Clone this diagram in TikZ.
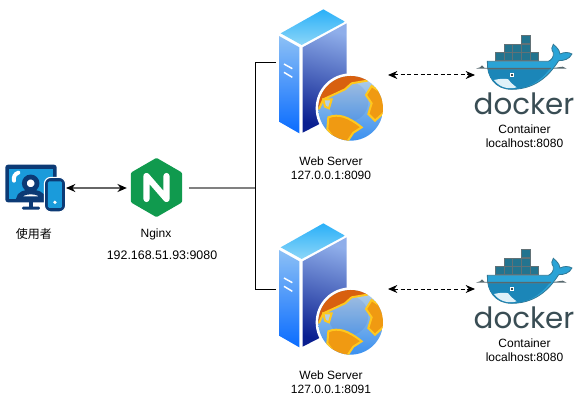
\documentclass[tikz,border=0pt]{standalone}
\usepackage{fontspec}
\setmainfont{Liberation Sans}
\newfontfamily\cjkfont{Noto Sans CJK TC}
\newfontfamily\logofont{Poppins}
\usetikzlibrary{arrows.meta, positioning, shapes.geometric, calc}
\definecolor{navyblue}{HTML}{0C3A75}
\definecolor{screenblue}{HTML}{1A9BDB}
\definecolor{nginxgreen}{HTML}{109A4E}
\definecolor{dockerslate}{HTML}{394D54}
\definecolor{dockerteal}{HTML}{23748F}
\definecolor{whaleblue}{HTML}{2AA3D6}
\definecolor{whaledeep}{HTML}{1B86B8}
\definecolor{landorange}{HTML}{F09A12}
\definecolor{landred}{HTML}{D8600F}
\definecolor{landyellow}{HTML}{FFC81E}
\definecolor{towerlight}{HTML}{8CC0F5}
\definecolor{towerblue}{HTML}{0A6CFF}
\definecolor{sidelight}{HTML}{8FAEEA}
\definecolor{sidedark}{HTML}{0A1F90}
\definecolor{roofa}{HTML}{2AB0F8}
\definecolor{roofb}{HTML}{8CD6F8}
\definecolor{seapale}{HTML}{B4CFE6}
\definecolor{seablue}{HTML}{3A90F0}
\tikzset{
    x=0.75pt, y=-0.75pt,
    caption/.style={font=\fontsize{9}{10.5}\selectfont, align=center, inner sep=0pt},
    iconbox/.style={inner sep=0pt, outer sep=0pt, minimum width=#1},
    link/.style={line width=0.75pt, black},
    graylink/.style={line width=1.4pt, black!50},
    duplex/.style={{Stealth[length=7pt,width=6pt]}-{Stealth[length=7pt,width=6pt]}, line width=0.75pt},
    usericon/.pic={
        \begin{scope}[scale=0.3333]
            \fill[navyblue, rounded corners=2pt] (16,20) rectangle (170,133);
            \fill[screenblue] (28,32) rectangle (158,122);
            \fill[navyblue] (86,133) rectangle (98,150);
            \fill[navyblue, rounded corners=1pt] (66,146) rectangle (120,155);
            \draw[white, line width=3pt, line cap=round] (42,68) .. controls (40,55) and (45,48) .. (55,44);
            \filldraw[fill=white, draw=navyblue, line width=3.6pt] (56,122) .. controls (58,95) and (126,95) .. (130,122) -- cycle;
            \filldraw[fill=white, draw=navyblue, line width=3.6pt] (92,76) circle (19);
            \fill[navyblue] (50,118) rectangle (135,125);
            \filldraw[fill=navyblue, draw=white, line width=0.8pt, rounded corners=5pt] (133,58) rectangle (197,162);
            \fill[screenblue, rounded corners=1pt] (144,70) rectangle (186,150);
            \fill[white] (165,133) circle (5.5);
        \end{scope}
    },
    nginxletter/.pic={
        \draw[white, line width=4.6pt, line join=round, line cap=round] (-10,11.5) -- (-10,-11.5) -- (10,11.5) -- (10,-11.5);
    },
    webserver/.pic={
        \begin{scope}[scale=0.3333]
            \shade[top color=towerlight, bottom color=towerblue] (57,108) -- (118,142) -- (118,400) -- (57,365) -- cycle;
            \shade[top color=sidelight, bottom color=sidedark, shading angle=-15] (128,142) -- (260,70) -- (260,330) -- (128,398) -- cycle;
            \shade[top color=roofa, bottom color=roofb] (62,100) -- (190,28) -- (255,65) -- (125,135) -- cycle;
            \draw[white, line width=1.1pt] (72,192) -- (97,206) (72,217) -- (97,232);
            \fill[white] (272,325) circle (105);
            \begin{scope}
                \clip (272,325) circle (97);
                \shade[top color=seapale, bottom color=seablue] (175,228) rectangle (369,422);
                \fill[sidedark, opacity=.08] (265,305) circle (60);
                \filldraw[fill=landred, draw=landyellow, line width=1.5pt] (165,330) -- (175,250) -- (240,215) -- (320,225) -- (322,242) -- (275,250) -- (255,268) -- (225,282) -- (190,298) -- (178,325) -- cycle;
                \filldraw[fill=seapale, draw=landyellow, line width=1.5pt] (190,298) -- (215,298) -- (207,325) -- (195,320) -- cycle;
                \filldraw[fill=landorange, draw=landyellow, line width=1.5pt] (205,352) .. controls (235,340) and (265,350) .. (305,382) -- (280,398) -- (262,425) -- (225,420) -- (202,388) -- cycle;
                \filldraw[fill=landorange, draw=landyellow, line width=1.5pt] (335,258) -- (375,285) -- (375,335) -- (345,362) -- (325,342) -- (335,310) -- (318,285) -- cycle;
            \end{scope}
        \end{scope}
    },
    dockerwhale/.pic={
        \begin{scope}[scale=0.3333]
            % cargo
            \foreach \bx/\by in {154/16, 102/42, 128/42, 154/42, 76/67, 102/67, 128/67, 154/67, 180/67}
                \filldraw[fill=dockerteal, draw=dockerslate!80, line width=0.5pt] (\bx,\by) rectangle ++(26.5,25);
            % water line
            \fill[dockerslate!85] (18,116) -- (30,112) -- (36,106) -- (44,114) -- (250,114) -- (278,110) -- (290,116) -- cycle;
            % whale
            \filldraw[fill=whaleblue, draw=dockerslate!50!whaleblue, line width=0.6pt] (52,94) -- (235,94) .. controls (245,90) and (252,80) .. (250,68)
                .. controls (243,58) and (245,50) .. (250,43) .. controls (258,50) and (268,58) .. (270,72)
                .. controls (282,66) and (296,66) .. (306,72) .. controls (298,88) and (282,92) .. (266,92)
                .. controls (245,125) and (205,178) .. (125,178) .. controls (75,178) and (50,140) .. (52,94) -- cycle;
            \fill[whaledeep] (54,118) -- (238,118) .. controls (210,155) and (170,178) .. (125,178) .. controls (85,178) and (58,150) .. (54,118) -- cycle;
            \fill[dockerslate!85] (52,114) -- (244,114) -- (240,118) -- (54,118) -- cycle;
            \fill[white!85!whaleblue] (72,150) .. controls (90,146) and (105,145) .. (115,148) .. controls (122,158) and (130,165) .. (140,172) .. controls (120,178) and (92,176) .. (72,150) -- cycle;
            \fill[white] (121,129) rectangle (132,140);
            \fill[dockerslate] (124,132) rectangle (129,137);
        \end{scope}
    }
}
\begin{document}
\begin{tikzpicture}
    \useasboundingbox (0,0) rectangle (579,403);

    % User
    \node[iconbox=61*0.75pt, minimum height=36pt] (user) at (35.5,188) {};
    \pic at (0,158) {usericon};
    \node[caption, font=\fontsize{9}{10.5}\selectfont\cjkfont] (userlabel) at (34,234) {使用者};

    % Nginx
    \node[regular polygon, regular polygon sides=6, shape border rotate=30, fill=nginxgreen, inner sep=0pt, outer sep=0pt, minimum size=44.5pt, rounded corners=1pt] (nginx) at (156.5,187.5) {};
    \pic at (nginx.center) {nginxletter};
    \node[caption] (nginxlabel) at (156,234) {Nginx};
    \node[caption, font=\fontsize{9.3}{10.5}\selectfont] (nginxaddr) at (162,255) {192.168.51.93:9080};

    % Web servers
    \node[iconbox=112*0.75pt, minimum height=99pt] (srva) at (332,75) {};
    \pic at (260,0) {webserver};
    \node[caption] (srvalabel) at (331,168) {Web Server\\127.0.0.1:8090};
    \node[iconbox=112*0.75pt, minimum height=99pt] (srvb) at (332,289) {};
    \pic at (260,214) {webserver};
    \node[caption] (srvblabel) at (331,382) {Web Server\\127.0.0.1:8091};

    % Containers
    \node[iconbox=100*0.75pt, minimum height=30pt] (doca) at (525,75) {};
    \pic at (470,30) {dockerwhale};
    \node[inner sep=0pt, font=\fontsize{22}{22}\logofont, text=dockerslate] (docatext) at (524,104) {docker};
    \node[caption] (docalabel) at (524.5,136) {Container\\localhost:8080};
    \node[iconbox=100*0.75pt, minimum height=30pt] (docb) at (525,289) {};
    \pic at (470,244) {dockerwhale};
    \node[inner sep=0pt, font=\fontsize{22}{22}\logofont, text=dockerslate] (docbtext) at (524,318) {docker};
    \node[caption] (docblabel) at (524.5,350) {Container\\localhost:8080};

    % Links
    \coordinate (trunk) at (255.5,188);
    \draw[duplex, black!60, line width=1.2pt, {Stealth[length=7pt,width=6pt,black]}-{Stealth[length=7pt,width=6pt,black]}, shorten >=3pt] (user.east) -- (user.east -| nginx.west);
    \draw[graylink, shorten <=5pt] (nginx.east |- trunk) -- (trunk);
    \draw[link] ([yshift=9pt]srva.west) -| (trunk) |- (srvb.west);
    \draw[duplex, densely dashed] (srva.east) -- (doca.west);
    \draw[duplex, densely dashed] (srvb.east) -- (docb.west);
\end{tikzpicture}
\end{document}
